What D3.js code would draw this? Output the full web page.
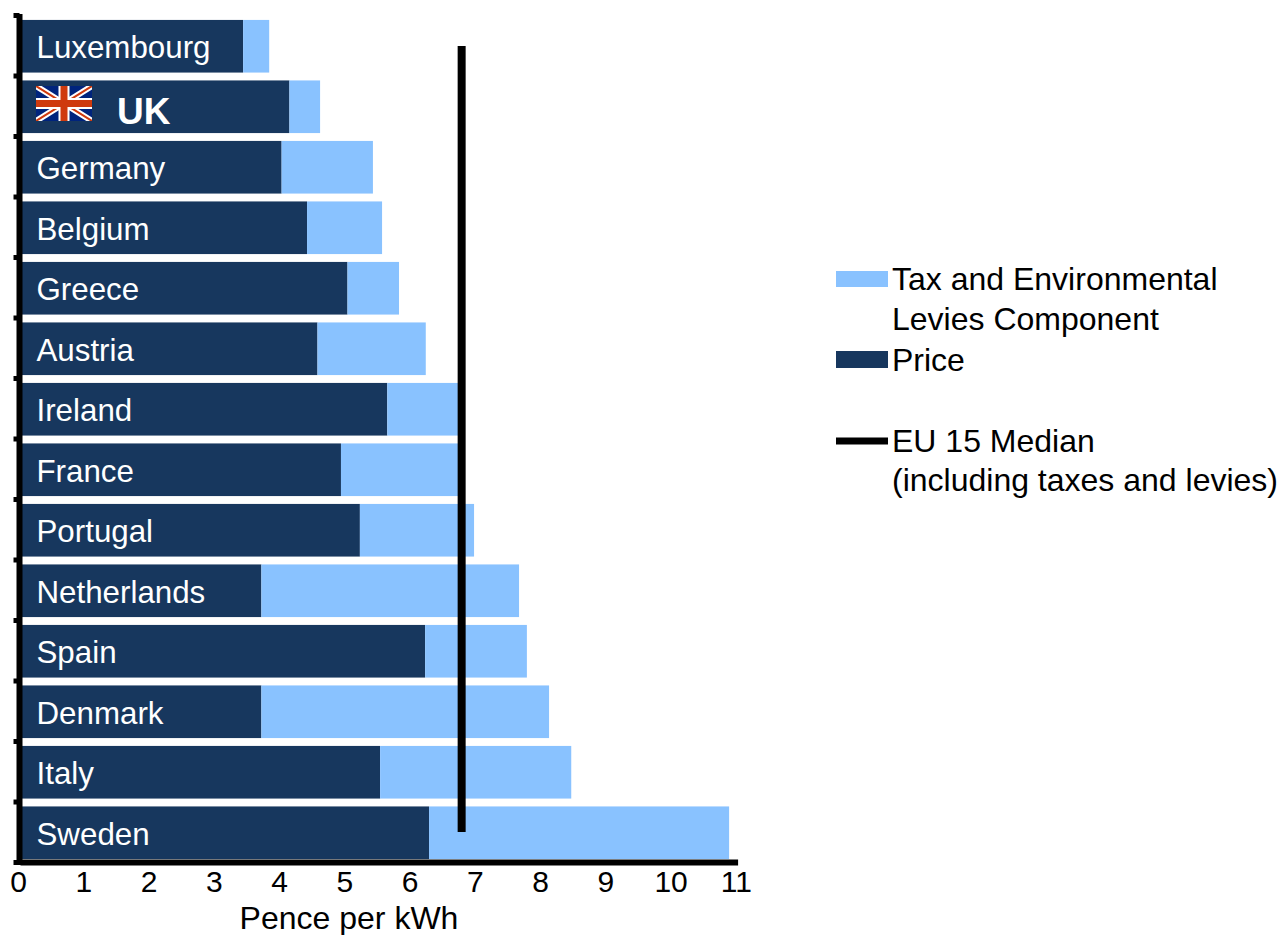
<!DOCTYPE html>
<html><head><meta charset="utf-8">
<style>html,body{margin:0;padding:0;background:#fff}svg{display:block}
text{font-family:"Liberation Sans",Arial,sans-serif}</style>
<script src="https://cdn.jsdelivr.net/npm/d3@7"></script></head>
<body><svg id="c" width="1282" height="935"></svg>
<script>
const countries=["Luxembourg","UK","Germany","Belgium","Greece","Austria","Ireland","France","Portugal","Netherlands","Spain","Denmark","Italy","Sweden"];
const price=[3.42,4.13,4.01,4.40,5.02,4.56,5.63,4.92,5.21,3.70,6.21,3.70,5.52,6.27];
const tax=[0.40,0.47,1.40,1.15,0.79,1.66,1.12,1.83,1.75,3.95,1.56,4.41,2.93,4.60];
const median=6.77;
const xTicks=[0,1,2,3,4,5,6,7,8,9,10,11];

const navy="#17375e",light="#89c2ff";
const svg=d3.select("#c");
const x=d3.scaleLinear().domain([0,11]).range([20,737.6]);
const y=d3.scaleBand().domain(countries).range([16,863]).paddingInner(0.13).paddingOuter(0.065);
const bounds=d3.scaleLinear().domain([0,countries.length]).range([15,862]);

svg.append("g").selectAll("rect").data(countries).join("rect")
 .attr("x",d=>x(0)).attr("y",d=>y(d)).attr("height",y.bandwidth())
 .attr("width",(d,i)=>x(price[i])-x(0)).attr("fill",navy);
svg.append("g").selectAll("rect").data(countries).join("rect")
 .attr("x",(d,i)=>x(price[i])).attr("y",d=>y(d)).attr("height",y.bandwidth())
 .attr("width",(d,i)=>x(price[i]+tax[i])-x(price[i])).attr("fill",light);

// y axis (category boundary ticks)
const ya=svg.append("g").attr("transform","translate(19.5,0)")
 .call(d3.axisLeft(bounds).tickValues(d3.range(countries.length+1)).tickSize(6).tickFormat(""));
ya.selectAll("line").attr("stroke","#000").attr("stroke-width",5);
ya.select(".domain").attr("stroke","#000").attr("stroke-width",6).attr("d","M0,14V865");

// x axis
const xa=svg.append("g").attr("transform","translate(0,862)")
 .call(d3.axisBottom(x).tickValues(xTicks).tickSize(0).tickPadding(9));
xa.select(".domain").attr("stroke","#000").attr("stroke-width",6);
xa.selectAll("text").attr("font-size",30).attr("fill","#000").attr("dx",-1.8).style("font-family",'"Liberation Sans",Arial,sans-serif');

svg.append("text").attr("x",349).attr("y",929).attr("text-anchor","middle")
 .attr("font-size",32).text("Pence per kWh");

// median line
svg.append("line").attr("x1",x(median)).attr("x2",x(median)).attr("y1",46).attr("y2",832)
 .attr("stroke","#000").attr("stroke-width",8);

// labels
svg.append("g").selectAll("text").data(countries).join("text")
 .attr("x",d=>d==="UK"?117:36.5)
 .attr("y",d=>y(d)+y.bandwidth()/2+(d==="UK"?17:12))
 .attr("fill","#fff").attr("font-size",d=>d==="UK"?37:31.3).attr("font-weight",d=>d==="UK"?"bold":"normal")
 .text(d=>d);

// flag
const W=56,H=35;
svg.append("clipPath").attr("id","fc").append("rect").attr("width",W).attr("height",H);
const fl=svg.append("g").attr("transform","translate(36,86)").attr("clip-path","url(#fc)");
fl.append("rect").attr("width",W).attr("height",H).attr("fill","#00247d");
const diag=`M0,0L${W},${H}M${W},0L0,${H}`;
fl.append("path").attr("d",diag).attr("stroke","#fff").attr("stroke-width",6);
fl.append("path").attr("d",diag).attr("stroke","#cf3a0e").attr("stroke-width",2);
const cross=`M${W/2},0V${H}M0,${H/2}H${W}`;
fl.append("path").attr("d",cross).attr("stroke","#fff").attr("stroke-width",11);
fl.append("path").attr("d",cross).attr("stroke","#cf3a0e").attr("stroke-width",7);

// legend
const lg=svg.append("g");
lg.append("rect").attr("x",836).attr("y",271).attr("width",52).attr("height",16).attr("fill",light);
lg.append("rect").attr("x",836).attr("y",351).attr("width",52).attr("height",17).attr("fill",navy);
lg.append("line").attr("x1",836).attr("x2",888).attr("y1",441).attr("y2",441).attr("stroke","#000").attr("stroke-width",7);
const lines=[["Tax and Environmental",290],["Levies Component",330],["Price",371],["EU 15 Median",452],["(including taxes and levies)",491]];
lg.selectAll("text").data(lines).join("text").attr("x",892).attr("y",d=>d[1]).attr("font-size",32).attr("fill","#000").text(d=>d[0]);
</script></body></html>
